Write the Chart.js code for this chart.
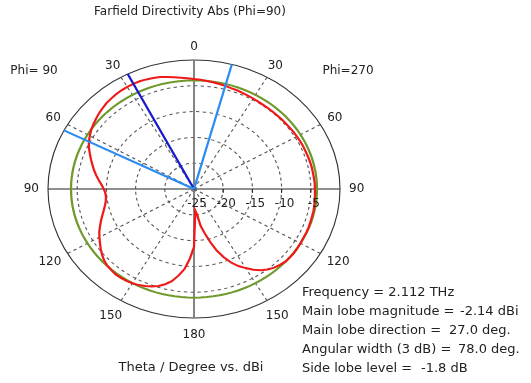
<!DOCTYPE html>
<html>
<head>
<meta charset="utf-8">
<script src="https://cdn.jsdelivr.net/npm/chart.js@4/dist/chart.umd.min.js"></script>
<style>
  html, body { margin: 0; padding: 0; background: #fff; }
  canvas { display: block; }
</style>
</head>
<body>
<canvas id="farfield" width="531" height="383" style="width:531px;height:383px"></canvas>
<script>
// polar cut, clockwise from theta=0: right half is Phi=270, left half is Phi=90
const angleStep = 3;
const angles = Array.from({ length: 360 / angleStep }, (_, i) => i * angleStep);

// directivity in dBi, one row per 30 degrees
const directivity = [
    -3.7, -3.8, -3.94, -4.05, -4.2, -4.3, -4.45, -4.5, -4.6, -4.7,
    -4.75, -4.8, -4.85, -4.85, -4.85, -4.85, -4.8, -4.8, -4.75, -4.7,
    -4.65, -4.6, -4.55, -4.55, -4.5, -4.45, -4.4, -4.4, -4.35, -4.3,
    -4.3, -4.25, -4.2, -4.15, -4.1, -4.1, -4.05, -4.0, -4.0, -4.0,
    -3.95, -3.9, -3.85, -3.9, -3.95, -4.2, -4.5, -4.95, -5.55, -6.35,
    -7.3, -8.25, -9.4, -10.9, -12.5, -14.4, -16.25, -17.75, -20.0, -20.8,
    -13.75, -11.5, -9.4, -8.0, -6.75, -5.9, -5.25, -4.75, -4.4, -4.1,
    -3.9, -3.75, -3.7, -3.7, -3.85, -4.0, -4.3, -4.75, -5.25, -5.8,
    -6.3, -6.8, -7.4, -7.95, -8.5, -9.0, -9.4, -9.7, -9.85, -9.8,
    -9.55, -9.15, -8.6, -8.05, -7.5, -7.0, -6.45, -5.9, -5.3, -4.8,
    -4.4, -4.0, -3.7, -3.4, -3.1, -2.85, -2.6, -2.45, -2.3, -2.2,
    -2.15, -2.14, -2.15, -2.25, -2.4, -2.55, -2.8, -3.05, -3.3, -3.5
];
const levelCircle = -3.94;          // green reference level
const mainLobeAngle = 333;          // theta 27 on the Phi=90 side
const halfPowerAngles = [15, 297];  // 3 dB width edges

const ringTicks = [-25, -20, -15, -10, -5];
const thetaTicks = [0, 30, 60, 90, 120, 150, 180, 210, 240, 270, 300, 330];
const thetaTickLabels = ['0', '30', '60', '90', '120', '150', '180', '150', '120', '90', '60', '30'];

const titleText = 'Farfield Directivity Abs (Phi=90)';
const axisTitle = 'Theta / Degree vs. dBi';
const phiLabels = ['Phi= 90', 'Phi=270'];
const infoLabels = ['Frequency = 2.112 THz', 'Main lobe magnitude =', 'Main lobe direction =', 'Angular width (3 dB) =', 'Side lobe level ='];
const infoValues = ['', '-2.14 dBi', '27.0 deg.', '78.0 deg.', '-1.8 dB'];

const stretchX = 146 / 129;  // the plot is drawn as an ellipse

function rayData(list) {
    const d = angles.map(() => null);
    list.forEach(a => {
        const i = a / angleStep;
        d[i] = 0;
        d[(i + 1) % angles.length] = -25;
    });
    return d;
}

const ellipse = {
    id: 'ellipse',
    beforeDraw(chart) {
        const r = chart.scales.r;
        const ctx = chart.ctx;
        ctx.save();
        ctx.translate(r.xCenter, 0);
        ctx.scale(stretchX, 1);
        ctx.translate(-r.xCenter, 0);
    },
    afterDatasetsDraw(chart) {
        chart.ctx.restore();
    }
};

const texts = {
    id: 'texts',
    afterDraw(chart) {
        const ctx = chart.ctx;
        const r = chart.scales.r;
        const cx = r.xCenter, cy = r.yCenter;
        const sx = x => cx + (x - cx) * stretchX;
        ctx.save();
        ctx.fillStyle = '#222';
        ctx.textAlign = 'center';
        ctx.textBaseline = 'middle';
        ctx.font = '12px "DejaVu Sans"';
        ctx.fillText(titleText, 190, 12);
        ctx.fillText(phiLabels[0], 34, 71);
        ctx.fillText(phiLabels[1], 348, 71);

        thetaTicks.forEach((a, k) => {
            const p = r.getPointPosition(a / angleStep, r.drawingArea);
            const w = ctx.measureText(thetaTickLabels[k]).width;
            const s = Math.sin(a * Math.PI / 180), c = Math.cos(a * Math.PI / 180);
            const gy = c < 0 ? 17 : 13;
            ctx.fillText(thetaTickLabels[k], sx(p.x) + s * (9 + w / 2), p.y - c * gy);
        });

        const i90 = 90 / angleStep;
        ctx.strokeStyle = '#222';
        ctx.lineWidth = 1;
        ringTicks.forEach(v => {
            const x = sx(r.getPointPositionForValue(i90, v).x);
            ctx.fillText(String(v), x + 3, cy + 15);
            if (v > -25) {
                ctx.beginPath();
                ctx.moveTo(x, cy);
                ctx.lineTo(x, cy + 4);
                ctx.stroke();
            }
        });

        ctx.font = '13px "DejaVu Sans"';
        ctx.fillText(axisTitle, 191, 368);
        ctx.textAlign = 'left';
        const valueX = [0, 460, 449, 458, 421];
        infoLabels.forEach((t, k) => {
            const y = 293 + k * 19;
            ctx.fillText(t, 302, y);
            if (infoValues[k]) ctx.fillText(infoValues[k], valueX[k], y);
        });
        ctx.restore();
    }
};

const ctx = document.getElementById('farfield').getContext('2d');
new Chart(ctx, {
    type: 'radar',
    data: {
        labels: angles,
        datasets: [
            {
                label: '3 dB',
                data: rayData(halfPowerAngles),
                borderColor: '#2b8cf2',
                borderWidth: 2,
                pointRadius: 0,
                fill: false
            },
            {
                label: 'Main lobe',
                data: rayData([mainLobeAngle]),
                borderColor: '#1a1acc',
                borderWidth: 2,
                pointRadius: 0,
                fill: false
            },
            {
                label: 'Directivity',
                data: directivity,
                borderColor: '#f01818',
                borderWidth: 2,
                pointRadius: 0,
                fill: false
            },
            {
                label: 'Level',
                data: angles.map(() => levelCircle),
                borderColor: '#6e9a2c',
                borderWidth: 2,
                pointRadius: 0,
                fill: false
            }
        ]
    },
    options: {
        responsive: false,
        animation: false,
        devicePixelRatio: 1,
        layout: { padding: { left: 65, right: 208, top: 60, bottom: 65 } },
        plugins: {
            legend: { display: false },
            tooltip: { enabled: false }
        },
        scales: {
            r: {
                min: -25,
                max: 0,
                ticks: { display: false, stepSize: 5 },
                pointLabels: { display: false },
                grid: {
                    circular: true,
                    color: c => c.tick && c.tick.value === 0 ? '#333' : '#555',
                    lineWidth: 1
                },
                border: {
                    dash: c => c.tick && c.tick.value === 0 ? [] : [3, 3]
                },
                angleLines: {
                    color: c => {
                        const a = c.index * angleStep;
                        if (a % 30 !== 0) return 'rgba(0,0,0,0)';
                        if (a === 0 || a === 180) return '#777';
                        if (a === 90 || a === 270) return '#222';
                        return '#555';
                    },
                    lineWidth: c => {
                        const a = c.index * angleStep;
                        if (a % 30 !== 0) return 0;
                        return a % 180 === 0 ? 1.6 : 1;
                    },
                    borderDash: c => (c.index * angleStep) % 90 === 0 ? [] : [3, 3]
                }
            }
        }
    },
    plugins: [ellipse, texts]
});
</script>
</body>
</html>
